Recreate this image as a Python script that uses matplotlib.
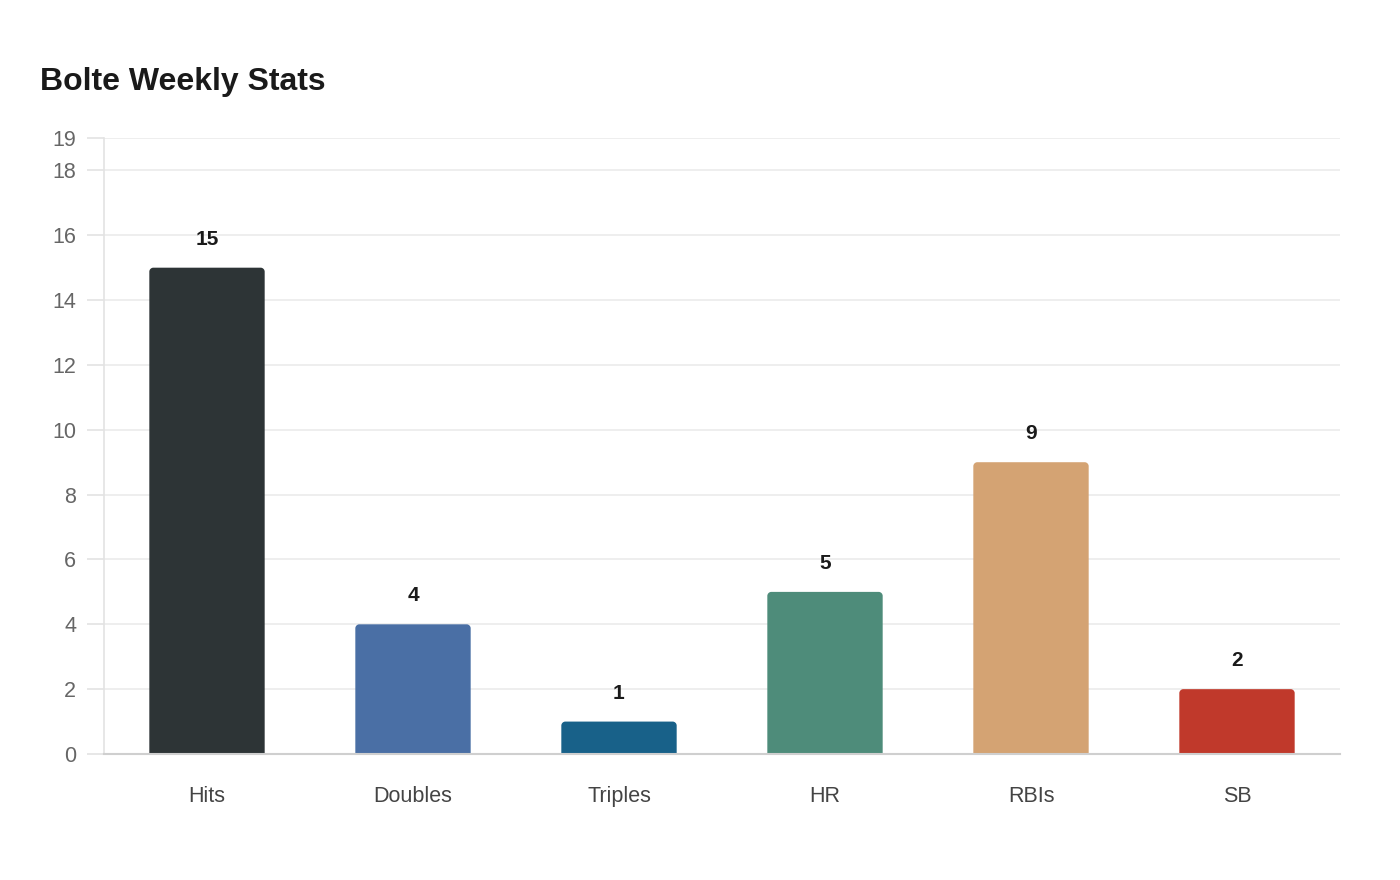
import matplotlib
matplotlib.use("Agg")
import matplotlib.pyplot as plt
from matplotlib.path import Path
from matplotlib.patches import PathPatch

plt.rcParams['font.family'] = ['Liberation Sans', 'DejaVu Sans']

categories = ["Hits", "Doubles", "Triples", "HR", "RBIs", "SB"]
values = [15, 4, 1, 5, 9, 2]
colors = ["#2d3436", "#4a6fa5", "#186189", "#4e8c7a", "#d4a373", "#c0392b"]
yticks = [0, 2, 4, 6, 8, 10, 12, 14, 16, 18, 19]
title = "Bolte Weekly Stats"

W, H = 1400, 880
fig = plt.figure(figsize=(W / 100, H / 100), dpi=100)
x0, x1, y0, y1 = 104, 1340, 754, 138
ax = fig.add_axes([x0 / W, 1 - y0 / H, (x1 - x0) / W, (y0 - y1) / H])

ymax = 19
ax.set_xlim(-0.5, len(categories) - 0.5)
ax.set_ylim(0, ymax)

px_per_x = (x1 - x0) / len(categories)
px_per_y = (y0 - y1) / ymax
r_px = 4
rx = r_px / px_per_x
ry = r_px / px_per_y
bw = 0.56

for i, (v, c) in enumerate(zip(values, colors)):
    L, R = i - bw / 2, i + bw / 2
    k = 0.55
    verts = [
        (L, 0), (L, v - ry),
        (L, v - ry + k * ry), (L + rx - k * rx, v), (L + rx, v),
        (R - rx, v),
        (R - rx + k * rx, v), (R, v - ry + k * ry), (R, v - ry),
        (R, 0), (L, 0),
    ]
    codes = [Path.MOVETO, Path.LINETO,
             Path.CURVE4, Path.CURVE4, Path.CURVE4,
             Path.LINETO,
             Path.CURVE4, Path.CURVE4, Path.CURVE4,
             Path.LINETO, Path.CLOSEPOLY]
    ax.add_patch(PathPatch(Path(verts, codes), facecolor=c, edgecolor='none', zorder=3))
    ax.annotate(str(v), (i, v), xytext=(0, 28.5 * 0.72), textcoords='offset points',
                ha='center', va='center', fontsize=15, fontweight='bold', color='#1a1a1a')

ax.set_yticks(yticks)
ax.set_yticklabels([str(t) for t in yticks])
ax.set_xticks(range(len(categories)))
ax.set_xticklabels(categories)
ax.grid(axis='y', color='#ebebeb', linewidth=1.2, zorder=0)
ax.set_axisbelow(True)

for s in ['top', 'right']:
    ax.spines[s].set_visible(False)
ax.spines['left'].set_color('#e3e3e3')
ax.spines['left'].set_linewidth(1.2)
ax.spines['bottom'].set_color('#cfcfcf')
ax.spines['bottom'].set_linewidth(1.5)
ax.spines['bottom'].set_zorder(4)

ax.tick_params(axis='y', length=12, width=1.2, color='#e3e3e3', labelsize=15.5,
               labelcolor='#666666', pad=8)
ax.tick_params(axis='x', length=0, labelsize=15.5, labelcolor='#444444', pad=23)

fig.text(40 / W, 1 - 82 / H, title, fontsize=23, fontweight='bold', color='#1a1a1a',
         ha='left', va='center')

fig.savefig("out.png", dpi=100, facecolor='white')
